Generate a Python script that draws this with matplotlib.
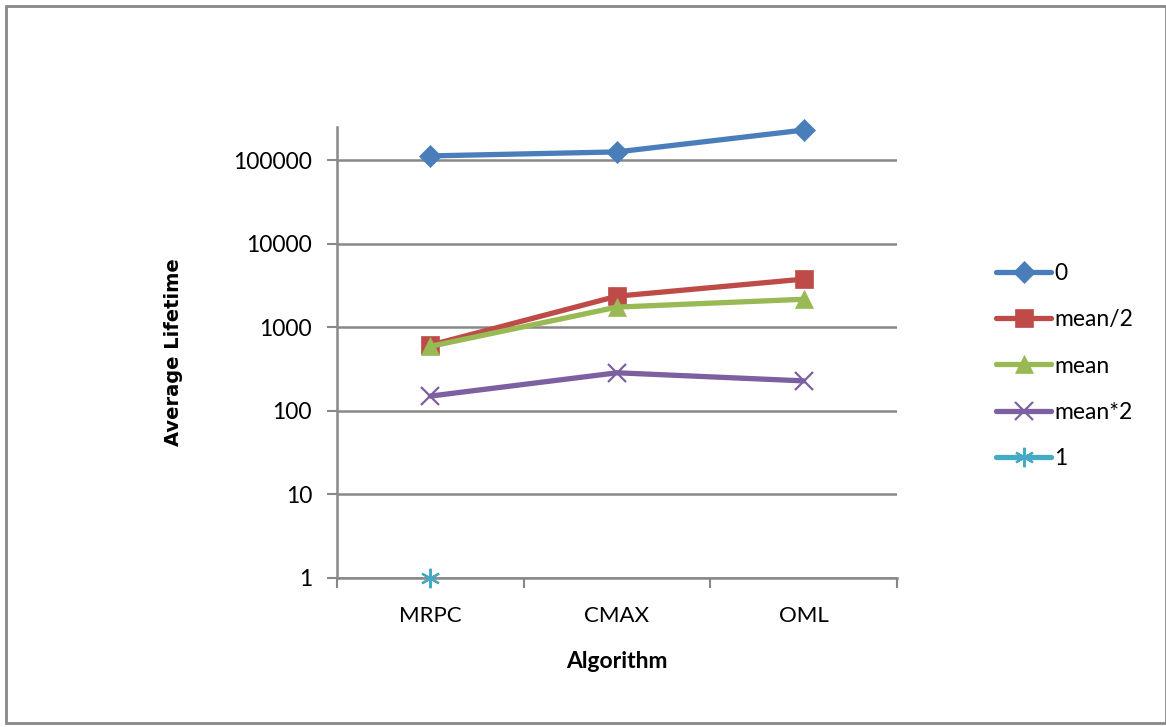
import matplotlib
matplotlib.use("Agg")
import matplotlib.pyplot as plt
from matplotlib.patches import Rectangle
from matplotlib.ticker import FixedLocator, NullFormatter, FixedFormatter
import numpy as np

algorithms = ["MRPC", "CMAX", "OML"]
series_names = ["0", "mean/2", "mean", "mean*2", "1"]
vals_0 = [112000, 125000, 228000]
vals_mean_half = [610, 2350, 3760]
vals_mean = [590, 1740, 2160]
vals_mean_double = [150, 285, 228]
vals_1 = [1, np.nan, np.nan]

colors = ["#4A7EBB", "#BE4B48", "#98B954", "#7D60A0", "#46AAC5"]
markers = ["D", "s", "^", "x", (6, 2, 0)]
msizes = [11, 13, 13, 13, 14]

plt.rcParams['font.family'] = ['Lato', 'DejaVu Sans']

fig = plt.figure(figsize=(11.66, 7.27), dpi=100)
ax = fig.add_axes([337/1166, 1-578/727, 560/1166, 451/727])

xs = np.arange(len(algorithms))
all_vals = [vals_0, vals_mean_half, vals_mean, vals_mean_double, vals_1]
for name, v, c, m, ms in zip(series_names, all_vals, colors, markers, msizes):
    ax.plot(xs, v, color=c, lw=3.8, marker=m, markersize=ms, label=name,
            markeredgewidth=1.6 if m in ("x", (6, 2, 0)) else 0.5,
            markeredgecolor=c, solid_capstyle='round', clip_on=False, zorder=3)

ax.set_yscale('log')
ax.set_ylim(1, 10**5.395)
ax.set_xlim(-0.5, 2.5)

yt = [1, 10, 100, 1000, 10000, 100000]
ax.yaxis.set_major_locator(FixedLocator(yt))
ax.yaxis.set_major_formatter(FixedFormatter([str(t) for t in yt]))
ax.yaxis.set_minor_locator(FixedLocator([]))
ax.yaxis.grid(True, color="#888888", lw=1.8)
ax.set_axisbelow(True)

ax.xaxis.set_major_locator(FixedLocator([-0.5, 0.5, 1.5, 2.5]))
ax.xaxis.set_major_formatter(NullFormatter())
ax.xaxis.set_minor_locator(FixedLocator(list(xs)))
ax.xaxis.set_minor_formatter(FixedFormatter(algorithms))
ax.tick_params(axis='x', which='minor', length=0, pad=20, labelsize=16)
ax.tick_params(axis='x', which='major', length=7, width=1.5, color="#888888")
ax.tick_params(axis='y', which='major', length=7, width=1.5, color="#888888",
               pad=11, labelsize=16.5)

for s in ['top', 'right']:
    ax.spines[s].set_visible(False)
for s in ['left', 'bottom']:
    ax.spines[s].set_color("#888888")
    ax.spines[s].set_linewidth(1.8)

ax.set_xlabel("Algorithm", fontsize=16.5, fontweight='bold', labelpad=18)
ax.set_ylabel("Average Lifetime", fontsize=14, fontweight='bold',
              family='DejaVu Sans', labelpad=36)

fig.legend(loc='center left', bbox_to_anchor=(996/1166, 1-366/727),
           frameon=False, fontsize=16.5, handlelength=2.4, handletextpad=0.15,
           labelspacing=1.1, borderpad=0, borderaxespad=0)

fig.patches.append(Rectangle((6/1166, 4/727), 1160/1166, 717/727,
                             transform=fig.transFigure, fill=False,
                             edgecolor="#888888", lw=2))

fig.savefig("out.png", dpi=100)
